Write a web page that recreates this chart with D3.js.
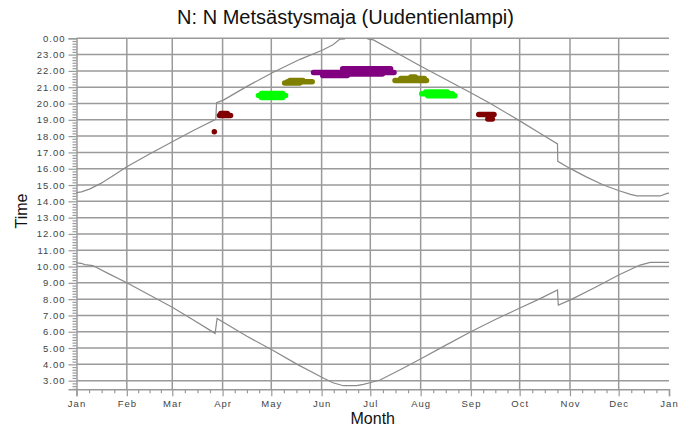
<!DOCTYPE html>
<html>
<head>
<meta charset="utf-8">
<script src="https://cdn.jsdelivr.net/npm/d3@7"></script>
<style>
  html, body { margin: 0; padding: 0; background: #fff; }
  svg { display: block; }
  text { font-family: "Liberation Sans", Arial, sans-serif; }
</style>
</head>
<body>
<svg id="chart" width="691" height="430"></svg>
<script>
// ---------- DATA ----------
const monthLabels = ["Jan","Feb","Mar","Apr","May","Jun","Jul","Aug","Sep","Oct","Nov","Dec","Jan"];
const monthStartDays = [0,31,59,90,120,151,181,212,243,273,304,334,365];
const hourTicks = [3,4,5,6,7,8,9,10,11,12,13,14,15,16,17,18,19,20,21,22,23,24];

// sunset curve (day of year, clock hour); null = no sunset (gap)
const sunsetDays  = [0,3,8,15,23,31,45,59,72,85.8,86.3,90.5,105,120.6,137.7,151.7,158,162.3,165.4,null,179.2,182.9,211.6,242.9,255,272.8,285,296.3,296.5,304,314,324.6,334.3,341.3,345.2,359.5,363.9,365];
const sunsetTimes = [14.53,14.58,14.75,15.1,15.6,16.12,16.9,17.66,18.35,19.03,20.05,20.21,21.05,21.89,22.71,23.28,23.6,23.95,23.97,null,23.97,23.9,22.32,20.66,20.0,18.95,18.2,17.52,16.45,16.02,15.5,15.0,14.65,14.43,14.33,14.33,14.49,14.5];

// sunrise curve
const sunriseDays  = [0,3,5,10,20,31,45,59,72,85.4,86.6,90.5,105,120.6,136,151.7,158,164.4,172.6,176.7,180.8,187,200,211.6,227,242.9,258,272.8,285,296.3,296.8,304,320,334.3,347.2,353.4,365];
const sunriseTimes = [10.22,10.2,10.12,10.06,9.55,9.01,8.25,7.5,6.72,5.9,6.82,6.58,5.72,4.88,4.0,3.18,2.87,2.69,2.69,2.77,2.87,3.04,3.7,4.31,5.15,6.0,6.75,7.44,8.0,8.56,7.64,7.94,8.75,9.5,10.09,10.25,10.25];

// observations: [first day, last day, clock hour]
const obsDarkRed = [[84.9,84.9,18.27],[88.9,92.9,19.39],[88.1,94.9,19.26],[247.8,257.2,19.33],[253.4,256.2,19.05]];
const obsGreen   = [[114,127,20.61],[112.1,128.8,20.49],[114,127,20.37],[215.2,228.4,20.71],[212.7,231.5,20.6],[216.4,233,20.48]];
const obsOlive   = [[128.2,137.5,21.26],[130,145.2,21.33],[131.5,139.5,21.41],[196.2,215.6,21.41],[199.8,214.3,21.53],[206,208.7,21.63]];
const obsPurple  = [[164,193.5,22.13],[146,195.6,21.9],[151.7,166.8,21.72],[168.4,188.4,21.81]];

// ---------- CHART ----------
(function(){
const svg = d3.select("#chart");
const W = 691, H = 430;
const mL = 76.5, mR = 669, mT = 38.3, mB = 389.3;

const x = d3.scaleLinear().domain([0,365]).range([mL,mR]);
const y = d3.scaleLinear().domain([2.47,24]).range([mB,mT]);

const gridColor = "#9a9a9a";

svg.append("rect").attr("width",W).attr("height",H).attr("fill","#fff");

// horizontal grid
svg.append("g").selectAll("line").data(hourTicks).join("line")
  .attr("x1",mL).attr("x2",mR)
  .attr("y1",d=>y(d)).attr("y2",d=>y(d))
  .attr("stroke",gridColor).attr("stroke-width",1.5);

// vertical grid
svg.append("g").selectAll("line").data(monthStartDays.slice(1,12)).join("line")
  .attr("x1",d=>x(d)).attr("x2",d=>x(d))
  .attr("y1",mT).attr("y2",mB)
  .attr("stroke",gridColor).attr("stroke-width",1.5);

// minor tick values
const yMinor = d3.range(Math.ceil(2.47*6), 24*6+1).map(v=>v/6).filter(v=>Math.abs(v-Math.round(v))>1e-6);
const xMinor = [];
for (let i=0;i<12;i++){
  const a=monthStartDays[i], b=monthStartDays[i+1];
  for (let k=1;k<4;k++) xMinor.push(a+(b-a)*k/4);
}

// y axis
const yAxis = d3.axisLeft(y).tickValues(hourTicks).tickSize(8).tickPadding(3)
  .tickFormat(d=>((d%24)).toFixed(2));
const gy = svg.append("g").attr("transform",`translate(${mL},0)`).call(yAxis);
const yAxisMinor = d3.axisLeft(y).tickValues(yMinor).tickSize(4).tickFormat("");
const gym = svg.append("g").attr("transform",`translate(${mL},0)`).call(yAxisMinor);

// x axis
const xAxis = d3.axisBottom(x).tickValues(monthStartDays).tickSize(7).tickPadding(4)
  .tickFormat((d,i)=>monthLabels[i]);
const gx = svg.append("g").attr("transform",`translate(0,${mB})`).call(xAxis);
const xAxisMinor = d3.axisBottom(x).tickValues(xMinor).tickSize(4).tickFormat("");
const gxm = svg.append("g").attr("transform",`translate(0,${mB})`).call(xAxisMinor);

[gy,gym,gx,gxm].forEach(g=>{
  g.select(".domain").attr("stroke",gridColor).attr("stroke-width",1.5);
  g.selectAll(".tick line").attr("stroke",gridColor).attr("stroke-width",1.2);
  g.selectAll("text").attr("fill","#444").attr("font-size","9.5px")
    .attr("font-family","'Liberation Sans', Arial, sans-serif")
    .style("letter-spacing","1px");
});
gym.select(".domain").remove();
gxm.select(".domain").remove();

// curves
const line = d3.line()
  .defined(d=>d[0]!==null && d[1]!==null)
  .x(d=>x(d[0])).y(d=>y(d[1]));
const sunset = sunsetDays.map((d,i)=>[d,sunsetTimes[i]]);
const sunrise = sunriseDays.map((d,i)=>[d,sunriseTimes[i]]);
[sunset,sunrise].forEach(s=>{
  svg.append("path").datum(s).attr("d",line)
    .attr("fill","none").attr("stroke","#8a8a8a").attr("stroke-width",1.2);
});

// observations
const obsSeries = [
  {data:obsDarkRed, color:"#800000"},
  {data:obsGreen,   color:"#00ff00"},
  {data:obsOlive,   color:"#808000"},
  {data:obsPurple,  color:"#800080"}
];
obsSeries.forEach(s=>{
  svg.append("g").selectAll("line").data(s.data).join("line")
    .attr("x1",d=>x(d[0])).attr("x2",d=>x(d[1]))
    .attr("y1",d=>y(d[2])).attr("y2",d=>y(d[2]))
    .attr("stroke",s.color).attr("stroke-width",5.5).attr("stroke-linecap","round");
});

// title & axis titles
svg.append("text").attr("x",W/2).attr("y",24).attr("text-anchor","middle")
  .attr("font-size","20px").attr("fill","#111").text("N: N Metsästysmaja (Uudentienlampi)");
svg.append("text").attr("x",(mL+mR)/2).attr("y",424).attr("text-anchor","middle")
  .attr("font-size","16px").attr("fill","#111").text("Month");
svg.append("text").attr("transform",`translate(27,211) rotate(-90)`).attr("text-anchor","middle")
  .attr("font-size","16px").attr("fill","#111").text("Time");
})();
</script>
</body>
</html>
